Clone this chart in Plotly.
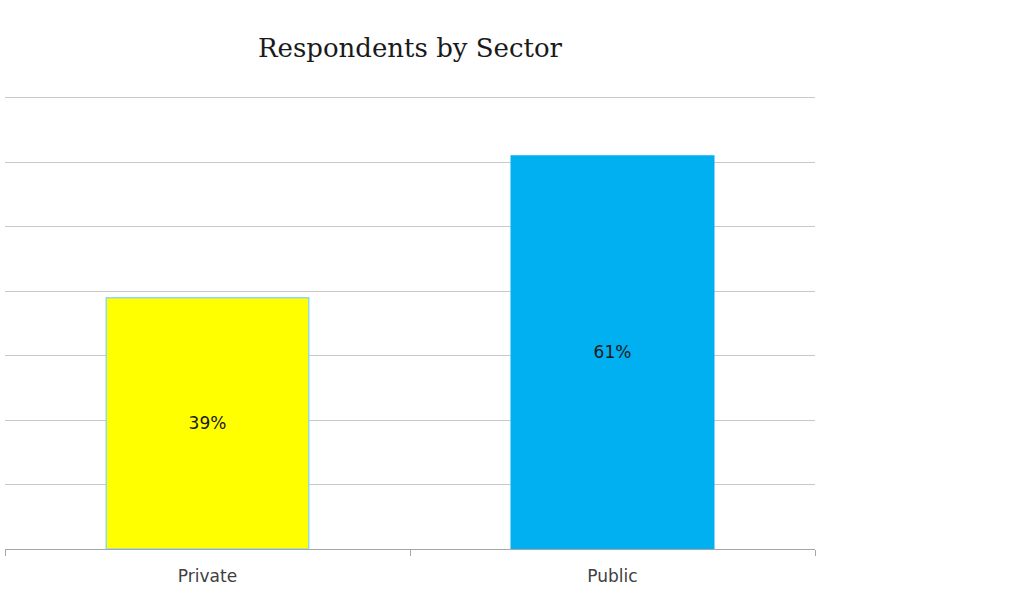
import plotly.graph_objects as go

sectors = ["Private", "Public"]
shares = [39, 61]
bar_colors = ["#ffff00", "#00b0f0"]
outline_colors = ["#92d9e6", "#00b0f0"]

fig = go.Figure(
    go.Bar(
        x=sectors,
        y=shares,
        marker=dict(color=bar_colors, line=dict(color=outline_colors, width=1.5)),
        text=[f"{v}%" for v in shares],
        textposition="inside",
        insidetextanchor="middle",
        textangle=0,
        textfont=dict(family="DejaVu Sans", size=17, color="#1a1a1a"),
        hoverinfo="skip",
    )
)

fig.update_layout(
    width=1030,
    height=614,
    margin=dict(l=5, r=215, t=85, b=65),
    paper_bgcolor="white",
    plot_bgcolor="white",
    bargap=0.5,
    showlegend=False,
    title=dict(
        text="Respondents by Sector",
        x=410 / 1030,
        xanchor="center",
        y=1 - 48 / 614,
        yanchor="middle",
        font=dict(family="DejaVu Serif", size=26, color="#1a1a1a"),
    ),
    uniformtext=dict(minsize=8, mode="show"),
)

fig.update_xaxes(
    type="category",
    tickson="boundaries",
    ticks="outside",
    ticklen=6,
    tickcolor="#a6a6a6",
    ticklabelstandoff=12,
    showline=True,
    linecolor="#a6a6a6",
    linewidth=1,
    showgrid=False,
    tickfont=dict(family="DejaVu Sans", size=17, color="#404040"),
    fixedrange=True,
)

fig.update_yaxes(
    range=[0, 72],
    tickvals=[10, 20, 30, 40, 50, 60, 70],
    showticklabels=False,
    showgrid=True,
    gridcolor="#c8c8c8",
    gridwidth=1,
    zeroline=False,
    fixedrange=True,
)

fig.write_html("out.html")
